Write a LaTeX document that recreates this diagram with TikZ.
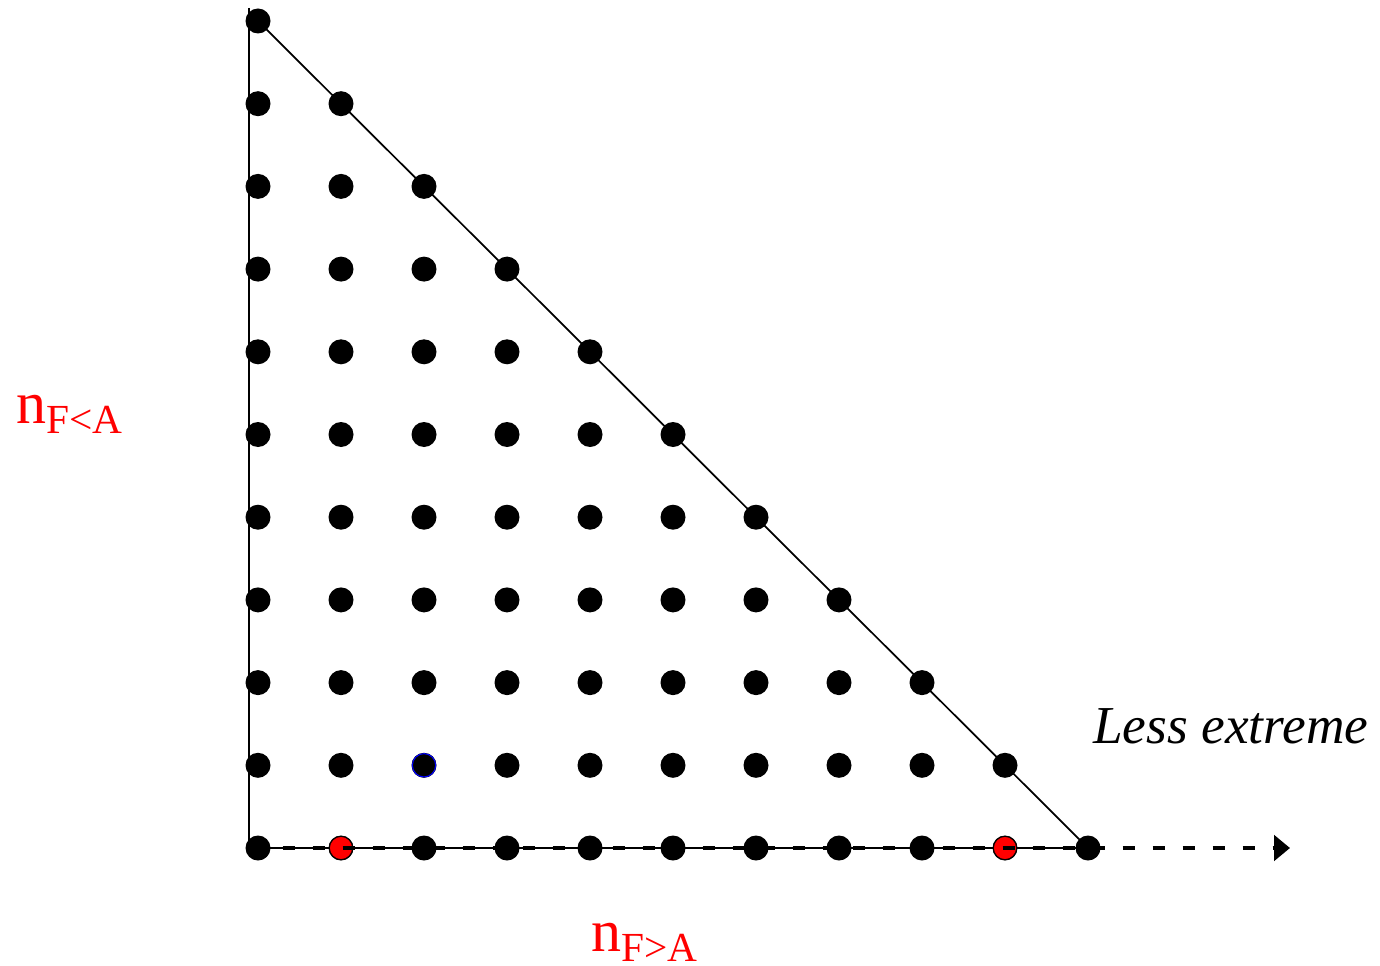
\documentclass[tikz,border=0pt]{standalone}
\usepackage{fontspec}
\setmainfont{Liberation Serif}
\usetikzlibrary{arrows.meta}
\begin{document}
\begin{tikzpicture}[x=0.75pt,y=-0.75pt,
  dot/.style={circle,fill=black,inner sep=0pt,minimum size=18.75pt},
  reddot/.style={dot,fill=red,draw=black,line width=0.8pt,minimum size=17.5pt},
  bluedot/.style={dot,draw=blue,line width=0.8pt,minimum size=17.5pt},
  edge/.style={line width=1.3pt,black},
  dasharrow/.style={line width=3.2pt,dash pattern=on 9pt off 13.5pt,-{Triangle[length=12pt,width=19pt]}},
  lbl/.style={anchor=base west,inner sep=0pt,text=red}]
\useasboundingbox (0,0) rectangle (1380,966);
\coordinate (vtop) at (249,8);
\coordinate (vbot) at (249,848);
\coordinate (aend) at (1290,848);
\draw[edge] (vtop) -- (vbot) -- (1088,848);
\draw[edge] (258,21) -- (1088,848);
\foreach \i in {0,...,10}{
  \pgfmathtruncatemacro{\jmax}{10-\i}
  \foreach \j in {0,...,\jmax}{
    \node[dot] (d\i-\j) at ({258+83*\i},{848-82.7*\j}) {};
  }
}
\node[reddot] (r1) at (d1-0) {};
\node[reddot] (r9) at (d9-0) {};
\node[bluedot] (b21) at (d2-1) {};
\draw[dasharrow,dash phase=4pt] (d0-0.center) -- (aend);
\node[lbl] (ly) at (16,423) {\fontsize{45pt}{45pt}\selectfont n\raisebox{-7.5pt}{\fontsize{31pt}{31pt}\selectfont F<A}};
\node[lbl] (lx) at (591,951) {\fontsize{45pt}{45pt}\selectfont n\raisebox{-8pt}{\fontsize{31pt}{31pt}\selectfont F>A}};
\node[anchor=base west,inner sep=0pt] (le) at (1093,743) {\fontsize{40pt}{40pt}\selectfont\itshape Less extreme};
\end{tikzpicture}
\end{document}
